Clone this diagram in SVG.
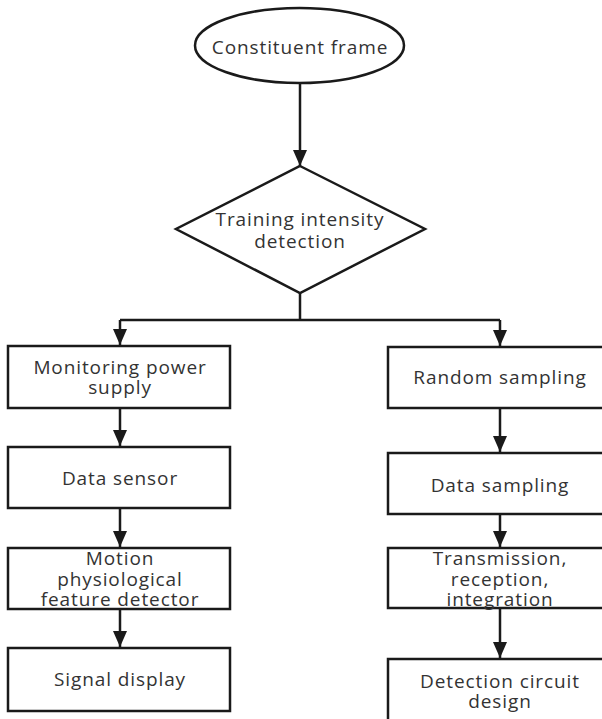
<svg xmlns="http://www.w3.org/2000/svg" width="602" height="719" viewBox="0 0 602 719">
<defs>
<marker id="ah" viewBox="0 0 16 14" refX="16" refY="7" markerWidth="16" markerHeight="14" markerUnits="userSpaceOnUse" orient="auto">
<path d="M0,0 L16,7 L0,14 Z" fill="#1a1a1a"/>
</marker>
<style>
.shape{fill:#fff;stroke:#1a1a1a;stroke-width:2.5}
.t{font-family:"Open Sans","DejaVu Sans",sans-serif;font-size:19px;letter-spacing:0.9px;fill:#333;text-anchor:middle}
.c{fill:none;stroke:#1a1a1a;stroke-width:2.5}
</style>
</defs>
<rect width="602" height="719" fill="#fff"/>
<g id="connectors">
<path class="c" d="M300,83 V166" marker-end="url(#ah)"/>
<path class="c" d="M300,293 V320"/>
<path class="c" d="M120,320 H500"/>
<path class="c" d="M120,320 V345" marker-end="url(#ah)"/>
<path class="c" d="M500,320 V346" marker-end="url(#ah)"/>
<path class="c" d="M120,408 V446" marker-end="url(#ah)"/>
<path class="c" d="M120,508 V547" marker-end="url(#ah)"/>
<path class="c" d="M120,609 V647" marker-end="url(#ah)"/>
<path class="c" d="M500,408 V452" marker-end="url(#ah)"/>
<path class="c" d="M500,514 V547" marker-end="url(#ah)"/>
<path class="c" d="M500,608 V658" marker-end="url(#ah)"/>
</g>
<g id="n-frame">
<ellipse class="shape" cx="299.5" cy="45.5" rx="104.5" ry="37.5"/>
<text class="t" x="300" y="54">Constituent frame</text>
</g>
<g id="n-training">
<path class="shape" d="M300,166 L425,229 L300,293 L176,229 Z"/>
<text class="t" x="300" y="226">Training intensity</text>
<text class="t" x="300" y="248">detection</text>
</g>
<g id="n-monitor">
<rect class="shape" x="8" y="346" width="222" height="62"/>
<text class="t" x="120" y="374">Monitoring power</text>
<text class="t" x="120" y="394">supply</text>
</g>
<g id="n-datasensor">
<rect class="shape" x="8" y="447" width="222" height="61"/>
<text class="t" x="120" y="485">Data sensor</text>
</g>
<g id="n-motion">
<rect class="shape" x="8" y="548" width="222" height="61"/>
<text class="t" x="120" y="565">Motion</text>
<text class="t" x="120" y="586">physiological</text>
<text class="t" x="120" y="606">feature detector</text>
</g>
<g id="n-signal">
<rect class="shape" x="8" y="648" width="222" height="63"/>
<text class="t" x="120" y="686">Signal display</text>
</g>
<g id="n-random">
<rect class="shape" x="388" y="347" width="224" height="61"/>
<text class="t" x="500" y="384">Random sampling</text>
</g>
<g id="n-datasampling">
<rect class="shape" x="388" y="453" width="224" height="61"/>
<text class="t" x="500" y="492">Data sampling</text>
</g>
<g id="n-trans">
<rect class="shape" x="388" y="548" width="224" height="60"/>
<text class="t" x="500" y="565">Transmission,</text>
<text class="t" x="500" y="586">reception,</text>
<text class="t" x="500" y="606">integration</text>
</g>
<g id="n-detect">
<rect class="shape" x="388" y="659" width="224" height="70"/>
<text class="t" x="500" y="688">Detection circuit</text>
<text class="t" x="500" y="708">design</text>
</g>
</svg>
